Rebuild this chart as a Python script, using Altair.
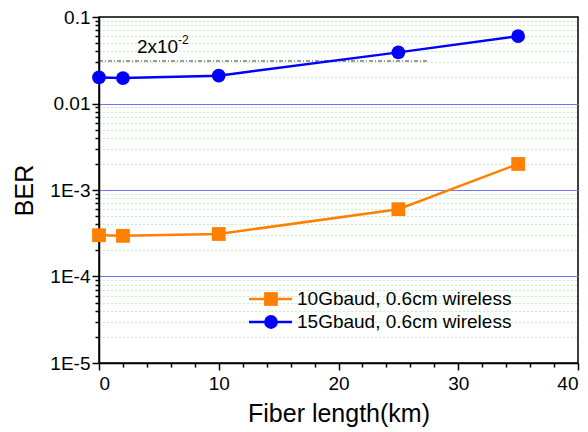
import altair as alt
import pandas as pd

# ---- data ----
fiber_km = [0, 2, 10, 25, 35]
ber_10g = [3.0e-4, 2.95e-4, 3.1e-4, 6.0e-4, 2.0e-3]
ber_15g = [0.020, 0.0197, 0.0210, 0.039, 0.060]
series_names = ["10Gbaud, 0.6cm wireless", "15Gbaud, 0.6cm wireless"]
series_colors = ["#FF8000", "#0000FF"]
series_shapes = ["square", "circle"]

threshold_ber = [0.031]
threshold_x = [0, 27.5]
annot_main = ["2x10"]
annot_sup = ["-2"]
annot_x = [3.17, 6.6]
annot_y = [0.045, 0.0545]

y_decades = [1e-5, 1e-4, 1e-3, 1e-2, 1e-1]
y_labels = ["1E-5", "1E-4", "1E-3", "0.01", "0.1"]
x_ticks = list(range(0, 41, 2))
x_labels = [0, 10, 20, 30, 40]

FONT = "Liberation Sans"
W, H = 479, 346

# tick values for log axis (decades + minor)
y_ticks = []
for d in y_decades[:-1]:
    for m in range(1, 10):
        y_ticks.append(d * m)
y_ticks.append(y_decades[-1])

y_label_expr = "''"
for d, lab in zip(y_decades, y_labels):
    y_label_expr = f"abs(datum.value - {d}) < {d}*1e-6 ? '{lab}' : ({y_label_expr})"
is_decade = "abs(log(datum.value)/LN10 - round(log(datum.value)/LN10)) < 1e-6"
x_label_expr = "indexof(" + str(x_labels) + ", datum.value) >= 0 ? datum.label : ''"

x_scale = alt.Scale(domain=[0, 40], nice=False, zero=False)
y_scale = alt.Scale(type="log", domain=[1e-5, 0.1], nice=False)

x_axis = alt.Axis(
    values=x_ticks, labelExpr=x_label_expr, title="Fiber length(km)",
    grid=False, tickSize={"condition": {"test": "datum.value % 10 == 0", "value": 7}, "value": 4},
    labelFontSize=19, titleFontSize=25, titleFontWeight="normal", titlePadding=8,
    labelPadding=4, domainColor="black", tickColor="black", domainWidth=1.5, tickWidth=1.5,
    labelColor="black", titleColor="black", labelFont=FONT, titleFont=FONT,
)
y_axis = alt.Axis(
    values=y_ticks, labelExpr=y_label_expr, title="BER",
    grid=True,
    gridColor={"condition": {"test": is_decade, "value": "#7070FF"}, "value": "#88E888"},
    gridDash={"condition": {"test": is_decade, "value": []}, "value": [1, 3]},
    gridOpacity={"condition": {"test": "datum.value > 0.09 || datum.value < 1.1e-5", "value": 0}, "value": 1},
    gridWidth=1,
    tickSize={"condition": {"test": is_decade, "value": 7}, "value": 4},
    labelFontSize=19, titleFontSize=25, titleFontWeight="normal", titlePadding=12,
    labelPadding=2, domainColor="black", tickColor="black", domainWidth=1.5, tickWidth=1.5,
    labelColor="black", titleColor="black", labelFont=FONT, titleFont=FONT,
)

layers = []

# threshold dashed line
thr_df = pd.DataFrame({"x": [threshold_x[0]], "x2": [threshold_x[1]], "y": threshold_ber})
layers.append(
    alt.Chart(thr_df).mark_rule(color="#222222", strokeWidth=0.9, strokeDash=[4, 2, 1, 2]).encode(
        x=alt.X("x:Q", scale=x_scale, axis=x_axis), x2="x2:Q",
        y=alt.Y("y:Q", scale=y_scale, axis=y_axis),
    )
)

for name, xs, ys, col, shp in zip(series_names, [fiber_km, fiber_km], [ber_10g, ber_15g],
                                   series_colors, series_shapes):
    df = pd.DataFrame({"x": xs, "y": ys, "s": name})
    base = alt.Chart(df).encode(
        x=alt.X("x:Q", scale=x_scale, axis=x_axis),
        y=alt.Y("y:Q", scale=y_scale, axis=y_axis),
    )
    layers.append(base.mark_line(color=col, strokeWidth=2.5))
    layers.append(base.mark_point(shape=shp, filled=True, color=col, size=190, opacity=1))

# annotation 2x10^-2
ann1 = pd.DataFrame({"x": [annot_x[0]], "y": [annot_y[0]], "t": annot_main})
ann2 = pd.DataFrame({"x": [annot_x[1]], "y": [annot_y[1]], "t": annot_sup})
layers.append(alt.Chart(ann1).mark_text(align="left", baseline="middle", fontSize=19, font=FONT, color="black").encode(
    x=alt.X("x:Q", scale=x_scale, axis=x_axis), y=alt.Y("y:Q", scale=y_scale, axis=y_axis), text="t:N"))
layers.append(alt.Chart(ann2).mark_text(align="left", baseline="middle", fontSize=12, font=FONT, color="black").encode(
    x=alt.X("x:Q", scale=x_scale, axis=x_axis), y=alt.Y("y:Q", scale=y_scale, axis=y_axis), text="t:N"))

# manual legend (line + marker + label)
leg_rows = [282, 305]
for name, col, shp, yy in zip(series_names, series_colors, series_shapes, leg_rows):
    ldf = pd.DataFrame({"t": [name]})
    lb = alt.Chart(ldf)
    layers.append(lb.mark_rule(color=col, strokeWidth=2.5).encode(
        x=alt.value(150), x2=alt.value(193), y=alt.value(yy)))
    layers.append(lb.mark_point(shape=shp, filled=True, color=col, size=190, opacity=1).encode(
        x=alt.value(172), y=alt.value(yy)))
    layers.append(lb.mark_text(align="left", baseline="middle", fontSize=19, font=FONT, color="black").encode(
        x=alt.value(198), y=alt.value(yy), text="t:N"))

chart = alt.layer(*layers).properties(
    width=W, height=H,
    autosize=alt.AutoSizeParams(type="none"),
    padding={"left": 99, "top": 17, "right": 10, "bottom": 69},
    background="white",
).configure_view(stroke="black", strokeWidth=1.5)

chart.save("out.html", embed_options={"renderer": "svg", "actions": False})
